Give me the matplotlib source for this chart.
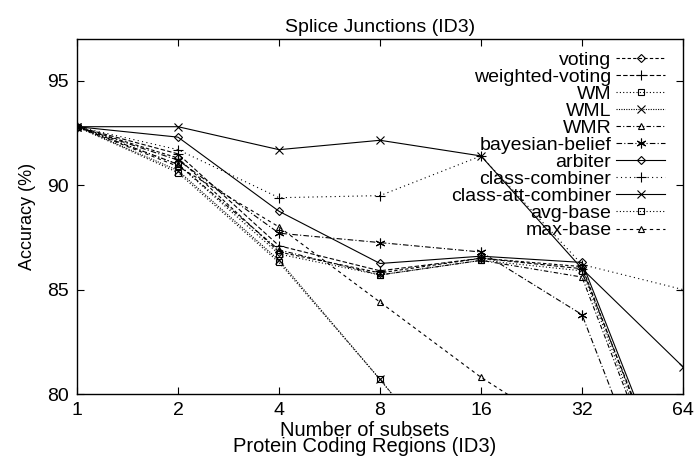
import numpy as np
import matplotlib.pyplot as plt

plt.rcParams['font.family'] = ['Liberation Sans', 'DejaVu Sans']
plt.rcParams['font.size'] = 14

## number of subsets
n_subsets = [1, 2, 4, 8, 16, 32, 64]

## accuracy (%) of each combining scheme
acc_voting        = [92.8, 91.3, 86.8, 85.8, 86.5, 86.1, 73.5]
acc_weighted      = [92.8, 91.5, 87.1, 85.9, 86.5, 86.0, 73.8]
acc_wm            = [92.8, 91.0, 86.7, 85.7, 86.4, 85.9, 73.2]
acc_wml           = [92.8, 90.7, 86.4, 80.7, 74.8, 70.0, 68.0]
acc_wmr           = [92.8, 91.0, 86.9, 85.7, 86.4, 85.6, 73.0]
acc_bayesian      = [92.8, 91.2, 87.7, 87.25, 86.8, 83.8, 71.3]
acc_arbiter       = [92.8, 92.3, 88.75, 86.25, 86.6, 86.3, 74.0]
acc_class_comb    = [92.8, 91.7, 89.4, 89.5, 91.4, 86.2, 85.0]
acc_class_att     = [92.8, 92.8, 91.7, 92.15, 91.4, 86.0, 81.3]
acc_avg_base      = [92.8, 90.6, 86.3, 80.7, 74.8, 70.0, 68.0]
acc_max_base      = [92.8, 90.9, 88.0, 84.4, 80.8, 77.7, 75.0]

labels = ['voting', 'weighted-voting', 'WM', 'WML', 'WMR', 'bayesian-belief',
          'arbiter', 'class-combiner', 'class-att-combiner', 'avg-base', 'max-base']
series = [acc_voting, acc_weighted, acc_wm, acc_wml, acc_wmr, acc_bayesian,
          acc_arbiter, acc_class_comb, acc_class_att, acc_avg_base, acc_max_base]

## gnuplot-like point types and dash patterns
markers = ['D', '+', 's', 'x', '^', (6, 2, 0), 'D', '+', 'x', 's', '^']
msizes  = [4, 7, 5, 6, 5, 7, 4, 7, 6, 5, 5]
dashes  = [(3, 2), (4, 2), (1, 2), (1, 1.2), (4, 2, 1, 2), (5, 2, 1, 2),
           None, (1, 3), None, (1, 2), (3, 3)]

fig = plt.figure(figsize=(6.96, 4.58), dpi=100)
ax = fig.add_axes([77/696, 1-394/458, 606/696, 355/458])

for vals, lab, m, ms, d in zip(series, labels, markers, msizes, dashes):
    line, = ax.plot(n_subsets, vals, color='black', lw=0.8, marker=m, ms=ms,
                    mfc='none', mec='black', mew=0.8, label=lab)
    if d is not None:
        line.set_dashes(d)

ax.set_xscale('log', base=2)
ax.set_xlim(1, 64)
ax.set_ylim(80, 97)
ax.set_xticks(n_subsets)
ax.set_xticklabels([str(n) for n in n_subsets])
ax.minorticks_off()
ax.set_yticks([80, 85, 90, 95])
ax.tick_params(direction='in', top=True, right=True, length=5, width=0.8, pad=6)
for s in ax.spines.values():
    s.set_linewidth(1.0)

## labels
ax.set_title('Splice Junctions (ID3)', fontsize=14, pad=5)
ax.set_ylabel('Accuracy (%)', fontsize=13, labelpad=8)
ax.set_xlabel('Number of subsets\nProtein Coding Regions (ID3)', fontsize=14.5,
              linespacing=0.8)
ax.xaxis.set_label_coords(0.475, -0.076, transform=ax.transAxes)
ax.xaxis.label.set_va('top')

## legend: labels right aligned, samples on the right
leg = ax.legend(loc='upper right', bbox_to_anchor=(0.970, 0.965), frameon=False,
                markerfirst=False, fontsize=14, labelspacing=-0.03,
                handlelength=2.5, handletextpad=0.25, borderpad=0, borderaxespad=0)
for col in leg._legend_box._children[1]._children:
    col.align = 'right'

fig.savefig('out.png', dpi=100)
